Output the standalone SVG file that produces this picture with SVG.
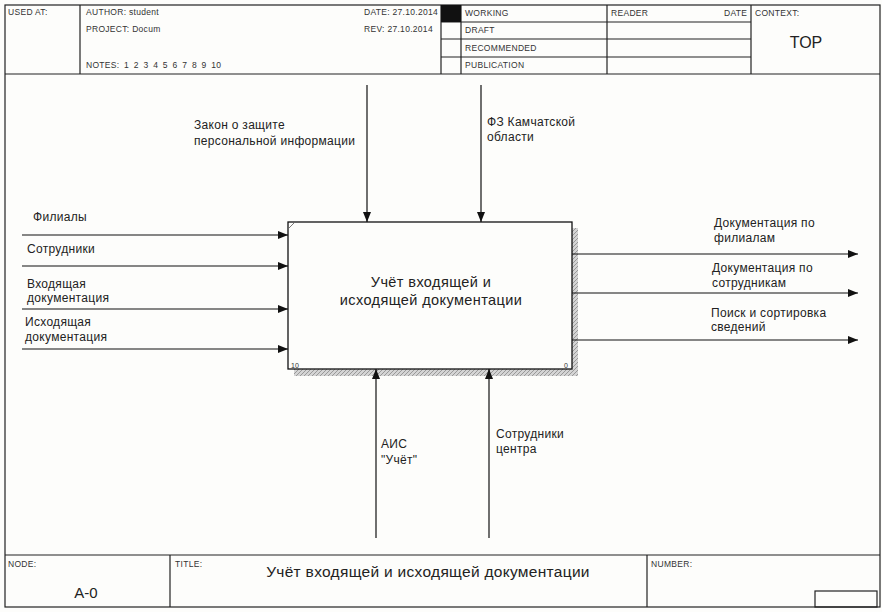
<svg xmlns="http://www.w3.org/2000/svg" width="882" height="612" viewBox="0 0 882 612">
<style>
.fr{fill:none;stroke:#222;stroke-width:1.2}
.hd{font-family:"Liberation Sans",Arial,sans-serif;font-size:8.5px;letter-spacing:0.3px;fill:#333}
.lb{font-family:"Liberation Sans",Arial,sans-serif;font-size:12px;letter-spacing:0.3px;fill:#222}
.bx{font-family:"Liberation Sans",Arial,sans-serif;font-size:14.5px;letter-spacing:0.4px;fill:#222}
.cn{stroke:#111;stroke-width:1.2;fill:none}
</style>
<defs>
<marker id="ah" viewBox="0 0 10 8" refX="10" refY="4" markerWidth="10" markerHeight="8" markerUnits="userSpaceOnUse" orient="auto">
<path d="M0,0 L10,4 L0,8 z" fill="#111"/>
</marker>
<pattern id="hatch" width="4" height="4" patternUnits="userSpaceOnUse">
<rect width="4" height="4" fill="#d4d4d4"/>
<path d="M0,4 L4,0" stroke="#999" stroke-width="1"/>
</pattern>
</defs>
<rect width="882" height="612" fill="#fdfdfb"/>
<g id="frame">
<rect class="fr" x="5" y="5" width="875" height="602"/>
<line class="fr" x1="5" y1="74" x2="880" y2="74"/>
<line class="fr" x1="80" y1="5" x2="80" y2="74"/>
<line class="fr" x1="441" y1="5" x2="441" y2="74"/>
<line class="fr" x1="461" y1="5" x2="461" y2="74"/>
<line class="fr" x1="607" y1="5" x2="607" y2="74"/>
<line class="fr" x1="751" y1="5" x2="751" y2="74"/>
<line class="fr" x1="441" y1="22" x2="751" y2="22"/>
<line class="fr" x1="441" y1="39" x2="751" y2="39"/>
<line class="fr" x1="441" y1="57" x2="751" y2="57"/>
<rect x="441" y="5" width="20" height="17" fill="#111"/>
<text class="hd" x="8" y="15">USED AT:</text>
<text class="hd" x="86" y="15">AUTHOR: student</text>
<text class="hd" x="86" y="32">PROJECT: Docum</text>
<text class="hd" x="86" y="68" word-spacing="2">NOTES: 1 2 3 4 5 6 7 8 9 10</text>
<text class="hd" x="364" y="15">DATE: 27.10.2014</text>
<text class="hd" x="364" y="32">REV: 27.10.2014</text>
<text class="hd" x="465" y="16">WORKING</text>
<text class="hd" x="465" y="33">DRAFT</text>
<text class="hd" x="465" y="51">RECOMMENDED</text>
<text class="hd" x="465" y="68">PUBLICATION</text>
<text class="hd" x="611" y="16">READER</text>
<text class="hd" x="724" y="16">DATE</text>
<text class="hd" x="755" y="16">CONTEXT:</text>
<text x="806" y="48" text-anchor="middle" font-family="Liberation Sans,Arial,sans-serif" font-size="16" fill="#222">TOP</text>
<line class="fr" x1="5" y1="555" x2="880" y2="555"/>
<line class="fr" x1="170" y1="555" x2="170" y2="607"/>
<line class="fr" x1="647" y1="555" x2="647" y2="607"/>
<rect class="fr" x="815" y="591" width="62" height="16"/>
<text class="hd" x="8" y="567">NODE:</text>
<text class="hd" x="175" y="567">TITLE:</text>
<text class="hd" x="651" y="567">NUMBER:</text>
<text x="86" y="598" text-anchor="middle" font-family="Liberation Sans,Arial,sans-serif" font-size="15" fill="#222">A-0</text>
<text x="428" y="577" text-anchor="middle" font-family="Liberation Sans,Arial,sans-serif" font-size="15.5" letter-spacing="0.3" fill="#222">Учёт входящей и  исходящей документации</text>
</g>
<g id="node-A0">
<rect x="294" y="369" width="284" height="7" fill="url(#hatch)"/>
<rect x="572" y="228" width="6" height="148" fill="url(#hatch)"/>
<rect x="288" y="222" width="284" height="147" fill="#fdfdfb" stroke="#111" stroke-width="1.3"/>
<line x1="289" y1="228" x2="294" y2="223" stroke="#555" stroke-width="0.8"/>
<text class="bx" x="431" y="287" text-anchor="middle">Учёт входящей и</text>
<text class="bx" x="431" y="305" text-anchor="middle">исходящей документации</text>
<text x="291" y="368" font-family="Liberation Sans,Arial,sans-serif" font-size="7" fill="#333">10</text>
<text x="564" y="368" font-family="Liberation Sans,Arial,sans-serif" font-size="7" fill="#333">0</text>
</g>
<g id="connectors">
<line class="cn" x1="22" y1="235" x2="288" y2="235" marker-end="url(#ah)"/>
<line class="cn" x1="22" y1="266" x2="288" y2="266" marker-end="url(#ah)"/>
<line class="cn" x1="22" y1="309" x2="288" y2="309" marker-end="url(#ah)"/>
<line class="cn" x1="22" y1="349" x2="288" y2="349" marker-end="url(#ah)"/>
<line class="cn" x1="367" y1="85" x2="367" y2="222" marker-end="url(#ah)"/>
<line class="cn" x1="481" y1="85" x2="481" y2="222" marker-end="url(#ah)"/>
<line class="cn" x1="572" y1="254" x2="858" y2="254" marker-end="url(#ah)"/>
<line class="cn" x1="572" y1="293" x2="858" y2="293" marker-end="url(#ah)"/>
<line class="cn" x1="572" y1="340" x2="858" y2="340" marker-end="url(#ah)"/>
<line class="cn" x1="376" y1="538" x2="376" y2="369" marker-end="url(#ah)"/>
<line class="cn" x1="489" y1="538" x2="489" y2="369" marker-end="url(#ah)"/>
</g>
<g id="labels">
<text class="lb" x="33" y="221">Филиалы</text>
<text class="lb" x="27" y="253">Сотрудники</text>
<text class="lb" x="27" y="288">Входящая</text>
<text class="lb" x="27" y="302">документация</text>
<text class="lb" x="25" y="326">Исходящая</text>
<text class="lb" x="25" y="341">документация</text>
<text class="lb" x="194" y="129">Закон о защите</text>
<text class="lb" x="194" y="145">персональной информации</text>
<text class="lb" x="487" y="126">ФЗ Камчатской</text>
<text class="lb" x="487" y="141">области</text>
<text class="lb" x="714" y="227">Документация по</text>
<text class="lb" x="714" y="242">филиалам</text>
<text class="lb" x="712" y="272">Документация по</text>
<text class="lb" x="712" y="287">сотрудникам</text>
<text class="lb" x="711" y="317">Поиск и сортировка</text>
<text class="lb" x="711" y="331">сведений</text>
<text class="lb" x="381" y="448">АИС</text>
<text class="lb" x="381" y="464">"Учёт"</text>
<text class="lb" x="496" y="438">Сотрудники</text>
<text class="lb" x="496" y="453">центра</text>
</g>
</svg>
